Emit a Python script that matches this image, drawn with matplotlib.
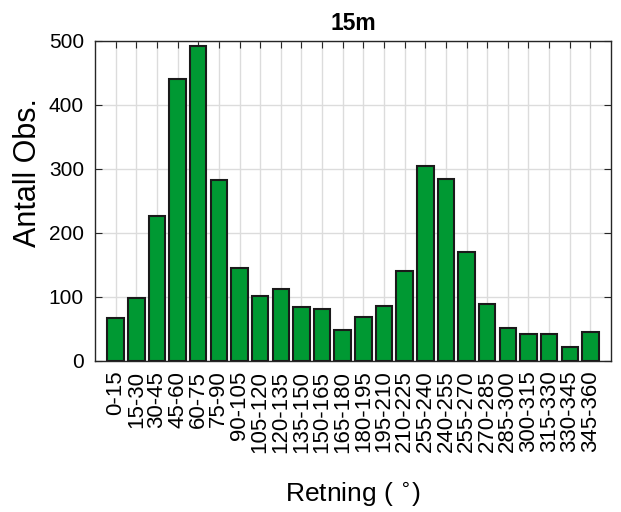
import matplotlib
matplotlib.use("Agg")
import matplotlib.pyplot as plt

plt.rcParams["font.family"] = ["Liberation Sans", "DejaVu Sans"]

labels = ["0-15", "15-30", "30-45", "45-60", "60-75", "75-90", "90-105",
          "105-120", "120-135", "135-150", "150-165", "165-180", "180-195",
          "195-210", "210-225", "255-240", "240-255", "255-270", "270-285",
          "285-300", "300-315", "315-330", "330-345", "345-360"]
counts = [67, 98, 226, 441, 492, 282, 146, 101, 113, 84, 81, 48,
          69, 86, 141, 305, 284, 170, 89, 52, 42, 42, 22, 45]

fig = plt.figure(figsize=(6.21, 5.12), dpi=100)
ax = fig.add_axes([0.153, 0.295, 0.831, 0.625])

pos = list(range(1, len(counts) + 1))
ax.bar(pos, counts, width=0.8, color="#009933", edgecolor="#1a1a1a",
       linewidth=1.5, zorder=3)

ax.set_xlim(0, len(counts) + 1)
ax.set_ylim(0, 500)
ax.set_xticks(pos)
ax.set_xticklabels(labels, rotation=90, fontsize=16)
ax.set_yticks([0, 100, 200, 300, 400, 500])
ax.tick_params(axis="y", labelsize=15, pad=8)
ax.tick_params(axis="x", pad=7)
ax.tick_params(direction="in", top=True, right=True, length=5, color="#262626")
ax.grid(True, color="#dcdcdc", linewidth=1, zorder=0)
for s in ax.spines.values():
    s.set_color("#262626")
    s.set_linewidth(1)

ax.set_title("15m", fontsize=16.5, fontweight="bold", pad=8)
ax.set_ylabel("Antall Obs.", fontsize=22, labelpad=5)
ax.yaxis.set_label_coords(-0.1, 0.59)
ax.set_xlabel(r"Retning ( $^{\circ}$)", fontsize=19, labelpad=20)

fig.savefig("out.png", dpi=100)
